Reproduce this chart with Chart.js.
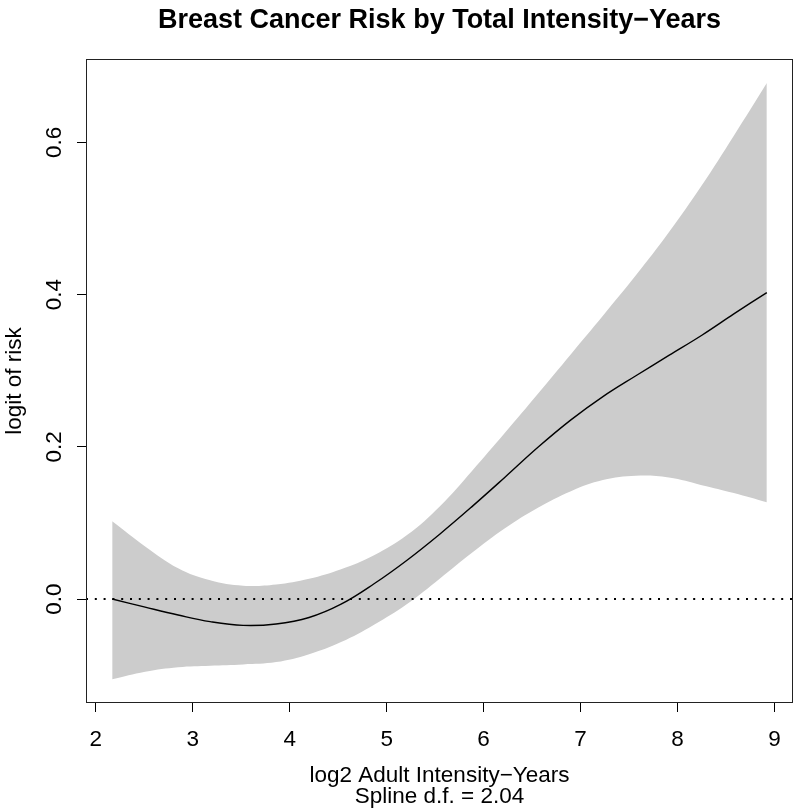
<!DOCTYPE html>
<html>
<head>
<meta charset="utf-8">
<script src="https://cdn.jsdelivr.net/npm/chart.js@4/dist/chart.umd.min.js"></script>
<style>
  html, body { margin: 0; padding: 0; background: #ffffff; }
  #wrap { width: 800px; height: 811px; }
</style>
</head>
<body>
<div id="wrap"><canvas id="c" width="800" height="811"></canvas></div>
<script>
// ---- data ----
const xs    = [2.17, 2.51, 2.85, 3.18, 3.52, 3.86, 4.20, 4.53, 4.87, 5.21, 5.55, 5.88, 6.22, 6.56, 6.90, 7.23, 7.57, 7.91, 8.25, 8.58, 8.92];
const fit   = [0.000, -0.0107, -0.021, -0.0297, -0.0346, -0.0328, -0.0243, -0.0068, 0.020, 0.051, 0.0855, 0.1214, 0.160, 0.1993, 0.2353, 0.2659, 0.2933, 0.320, 0.3465, 0.3745, 0.4026];
const upper = [0.102, 0.069, 0.0404, 0.0246, 0.0175, 0.019, 0.0265, 0.039, 0.0575, 0.084, 0.122, 0.1683, 0.2183, 0.2696, 0.3217, 0.3722, 0.4253, 0.4817, 0.5434, 0.6087, 0.678];
const lower = [-0.1053, -0.0955, -0.0896, -0.0876, -0.0859, -0.0829, -0.0725, -0.0566, -0.0338, -0.0066, 0.0271, 0.0608, 0.093, 0.1199, 0.1417, 0.1563, 0.162, 0.1596, 0.1496, 0.1392, 0.1271];
const xTicks = [2, 3, 4, 5, 6, 7, 8, 9];
const xTickLabels = ['2', '3', '4', '5', '6', '7', '8', '9'];
const yTicks = [0.0, 0.2, 0.4, 0.6];
const yTickLabels = ['0.0', '0.2', '0.4', '0.6'];
const refValue = 0;
const xRange = [1.9, 9.19];
const yRange = [-0.1366, 0.7094];

const titleText = 'Breast Cancer Risk by Total Intensity\u2212Years';
const xTitle = ['log2 Adult Intensity\u2212Years', 'Spline d.f. = 2.04'];
const yTitle = 'logit of risk';

const FONT = '"Liberation Sans", Arial, Helvetica, sans-serif';

const pts = (ys) => xs.map((x, i) => ({ x: x, y: ys[i] }));

const boxPlugin = {
  id: 'box',
  afterDraw(chart) {
    const a = chart.chartArea, ctx = chart.ctx;
    ctx.save();
    ctx.strokeStyle = '#222';
    ctx.lineWidth = 1;
    ctx.strokeRect(Math.round(a.left) + 0.5, Math.round(a.top) + 0.5,
                   Math.round(a.right - a.left) - 1, Math.round(a.bottom - a.top) - 1);
    ctx.restore();
  }
};

new Chart(document.getElementById('c'), {
  type: 'line',
  data: {
    datasets: [
      { label: 'fit', data: pts(fit), borderColor: '#000', borderWidth: 1.4,
        pointRadius: 0, fill: false, tension: 0.4 },
      { label: 'ref', data: [{ x: xRange[0], y: refValue }, { x: xRange[1], y: refValue }],
        borderColor: '#000', borderWidth: 2, borderDash: [2, 6.8], pointRadius: 0, fill: false },
      { label: 'upper', data: pts(upper), borderWidth: 0, borderColor: 'rgba(0,0,0,0)',
        backgroundColor: '#cccccc', pointRadius: 0, fill: '+1', tension: 0.4 },
      { label: 'lower', data: pts(lower), borderWidth: 0, borderColor: 'rgba(0,0,0,0)',
        pointRadius: 0, fill: false, tension: 0.4 }
    ]
  },
  options: {
    responsive: false,
    animation: false,
    devicePixelRatio: 1,
    layout: { padding: { top: 0, right: 7, bottom: 0, left: 0 } },
    plugins: {
      legend: { display: false },
      tooltip: { enabled: false },
      title: {
        display: true,
        text: titleText,
        fullSize: false,
        color: '#000',
        font: { family: FONT, size: 27, weight: 'bold', lineHeight: 1.2 },
        padding: { top: 4, bottom: 22.6 }
      }
    },
    scales: {
      x: {
        type: 'linear',
        min: xRange[0], max: xRange[1],
        afterBuildTicks: (s) => { s.ticks = xTicks.map(v => ({ value: v })); },
        afterFit: (s) => { s.height = 108; },
        ticks: {
          color: '#000',
          font: { family: FONT, size: 22.5 },
          padding: 14,
          maxRotation: 0,
          autoSkip: false,
          callback: (v) => { const i = xTicks.indexOf(v); return i >= 0 ? xTickLabels[i] : ''; }
        },
        grid: { display: true, drawOnChartArea: false, drawTicks: true, tickLength: 9, color: '#000', lineWidth: 1 },
        border: { display: false },
        title: {
          display: true, text: xTitle, color: '#000',
          font: { family: FONT, size: 22.5, lineHeight: 0.95 },
          padding: { top: 0, bottom: 3.3 }
        }
      },
      y: {
        type: 'linear',
        min: yRange[0], max: yRange[1],
        afterBuildTicks: (s) => { s.ticks = yTicks.map(v => ({ value: v })); },
        afterFit: (s) => { s.width = 86; },
        ticks: {
          color: '#000',
          font: { family: FONT, size: 22.5 },
          padding: 6.4,
          minRotation: 90, maxRotation: 90,
          crossAlign: 'center',
          autoSkip: false,
          callback: (v) => {
            const i = yTicks.findIndex(t => Math.abs(t - v) < 1e-9);
            return i >= 0 ? yTickLabels[i] : '';
          }
        },
        grid: { display: true, drawOnChartArea: false, drawTicks: true, tickLength: 9, color: '#000', lineWidth: 1 },
        border: { display: false },
        title: {
          display: true, text: yTitle, color: '#000',
          font: { family: FONT, size: 22.5, lineHeight: 1.2 },
          padding: { top: 1.5, bottom: 0 }
        }
      }
    }
  },
  plugins: [boxPlugin]
});
</script>
</body>
</html>
